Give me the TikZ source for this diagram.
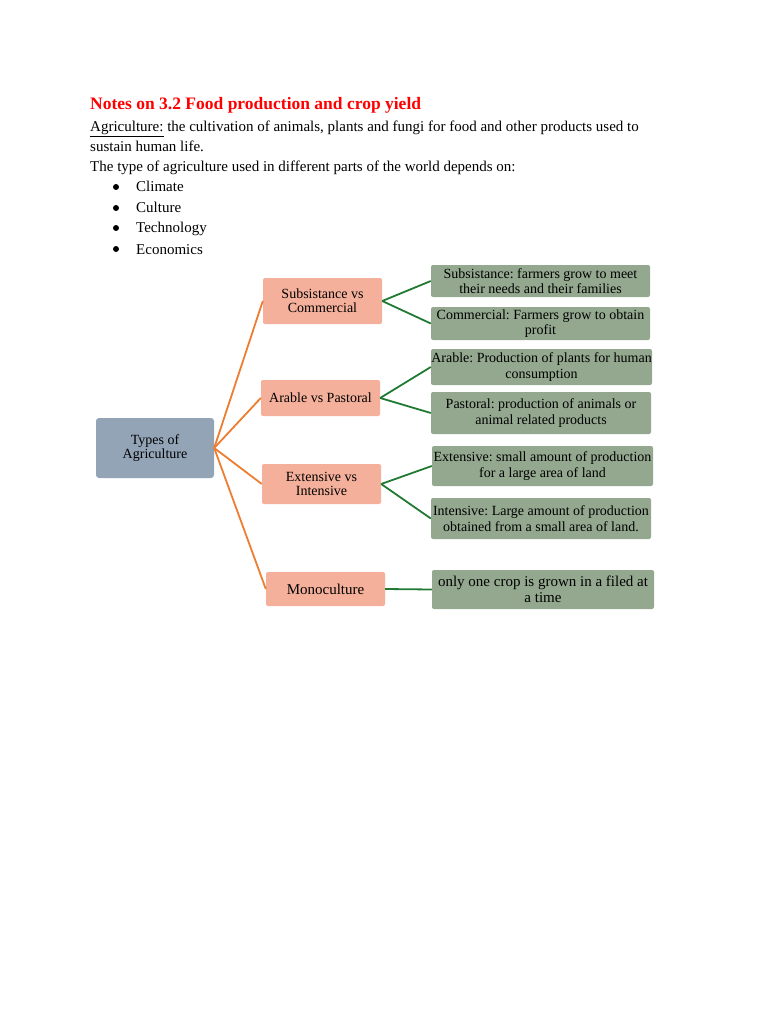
\documentclass[tikz,border=0pt]{standalone}
\usepackage{fontspec}
\setmainfont{Liberation Serif}
\frenchspacing
\definecolor{salmon}{HTML}{F4B09A}
\definecolor{sage}{HTML}{93A88F}
\definecolor{slate}{HTML}{93A4B7}
\definecolor{orangeline}{HTML}{ED7D31}
\definecolor{greenline}{HTML}{217A33}
\definecolor{titlered}{HTML}{FF0000}
\begin{document}
\frenchspacing
\begin{tikzpicture}[x=1pt,y=-1pt,
  txt/.style={anchor=base west,inner sep=0pt,font=\fontsize{15}{18}\selectfont},
  rootbox/.style={fill=slate,rounded corners=3pt,draw=none,align=center,inner sep=0pt,font=\fontsize{14}{14}\selectfont},
  midbox/.style={fill=salmon,rounded corners=2pt,draw=none,align=center,inner sep=0pt,font=\fontsize{14}{14}\selectfont},
  leafbox/.style={fill=sage,rounded corners=2pt,draw=none,align=center,inner sep=0pt,font=\fontsize{14}{15.5}\selectfont},
  oline/.style={draw=orangeline,line width=1.8pt},
  gline/.style={draw=greenline,line width=1.8pt}]
\useasboundingbox (0,0) rectangle (768,1024);
% header text
\node[txt,font=\fontsize{17.5}{20}\selectfont\bfseries,text=titlered] (title) at (90,110) {Notes on 3.2 Food production and crop yield};
\node[txt] (l1) at (90,132) {\underline{Agriculture:} the cultivation of animals, plants and fungi for food and other products used to};
\node[txt] (l2) at (90,152) {sustain human life.};
\node[txt] (l3) at (90,172) {The type of agriculture used in different parts of the world depends on:};
\foreach \t/\y/\n in {Climate/192/b1,Culture/213/b2,Technology/233/b3,Economics/254/b4}{
  \node[txt] (\n) at (136,\y) {\t};
  \fill (116,\y-5) circle (3pt);
}
% boxes
\node[rootbox,minimum width=118pt,minimum height=60pt] (root) at (155,448) {Types of\\Agriculture};
\node[midbox,minimum width=119pt,minimum height=46pt] (sc) at (322.5,301) {Subsistance vs\\Commercial};
\node[midbox,minimum width=119pt,minimum height=36pt] (ap) at (320.5,398) {Arable vs Pastoral};
\node[midbox,minimum width=119pt,minimum height=40pt] (ei) at (321.5,484) {Extensive vs\\Intensive};
\node[midbox,minimum width=119pt,minimum height=34pt,font=\fontsize{15}{15}\selectfont] (mo) at (325.5,589) {Monoculture};
\node[leafbox,minimum width=219pt,minimum height=32pt] (sub) at (540.5,281) {Subsistance: farmers grow to meet\\their needs and their families};
\node[leafbox,minimum width=219pt,minimum height=33pt] (com) at (540.5,323.5) {Commercial: Farmers grow to obtain\\profit};
\node[leafbox,minimum width=221pt,minimum height=36pt] (ara) at (541.5,367) {Arable: Production of plants for human\\consumption};
\node[leafbox,minimum width=220pt,minimum height=42pt] (pas) at (541,413) {Pastoral: production of animals or\\animal related products};
\node[leafbox,minimum width=221pt,minimum height=40pt] (ext) at (542.5,466) {Extensive: small amount of production\\for a large area of land};
\node[leafbox,minimum width=220pt,minimum height=41pt] (int) at (541,518.5) {Intensive: Large amount of production\\obtained from a small area of land.};
\node[leafbox,minimum width=222pt,minimum height=39pt,font=\fontsize{15}{16.5}\selectfont] (one) at (543,589.5) {only one crop is grown in a filed at\\a time};
% connectors
\draw[oline] (root.east) -- (sc.west);
\draw[oline] (root.east) -- (ap.west);
\draw[oline] (root.east) -- (ei.west);
\draw[oline] (root.east) -- (mo.west);
\draw[gline] (sc.east) -- (sub.west);
\draw[gline] (sc.east) -- (com.west);
\draw[gline] (ap.east) -- (ara.west);
\draw[gline] (ap.east) -- (pas.west);
\draw[gline] (ei.east) -- (ext.west);
\draw[gline] (ei.east) -- (int.west);
\draw[gline] (mo.east) -- (one.west);
\end{tikzpicture}
\end{document}
